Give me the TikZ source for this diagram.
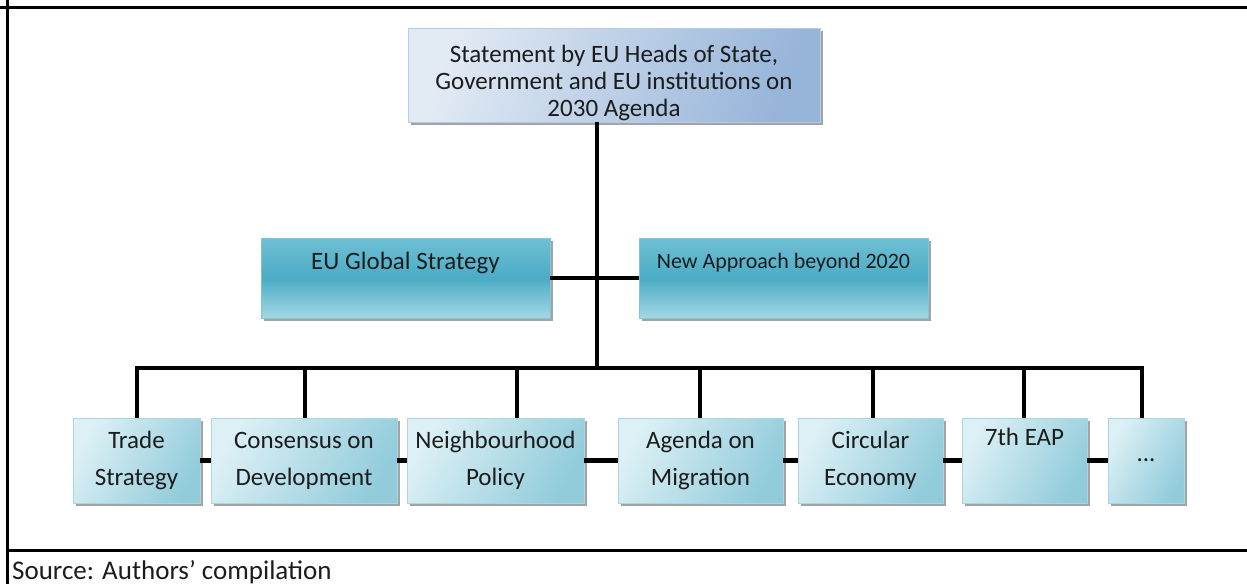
\documentclass[tikz,border=0pt]{standalone}
\usepackage{fontspec}
\setmainfont{Carlito}
\usetikzlibrary{shadows,calc}
\definecolor{txt}{HTML}{1C1C1C}
\definecolor{topL}{HTML}{E2EAF4}
\definecolor{topR}{HTML}{97B5D9}
\definecolor{midT}{HTML}{6FBFD3}
\definecolor{midM}{HTML}{4BACC6}
\definecolor{midB}{HTML}{A3D7E4}
\definecolor{botL}{HTML}{DCF0F5}
\definecolor{botR}{HTML}{92CCDB}
\definecolor{edge}{HTML}{A9D6E2}
\begin{document}
\begin{tikzpicture}[x=1pt,y=-1pt,
  boxbase/.style={inner sep=0pt, align=center, text=txt,
    drop shadow={shadow xshift=2.5pt, shadow yshift=-2.5pt, fill=black!45, opacity=0.8}},
  topbox/.style={boxbase, left color=topL, right color=topR, shading angle=70,
    draw=topR!70, line width=0.6pt, minimum width=412pt, minimum height=94pt,
    font=\fontsize{25}{27}\selectfont},
  midbox/.style={boxbase, top color=midT, bottom color=midB, middle color=midM,
    draw=midM!70, line width=0.6pt, minimum width=289pt, minimum height=80pt,
    font=\fontsize{25}{26}\selectfont},
  botbox/.style={boxbase, left color=botL, right color=botR, shading angle=60,
    draw=edge, line width=0.6pt, minimum height=85pt,
    font=\fontsize{25}{37}\selectfont},
  conn/.style={line width=4.6pt, draw=black, line join=miter},
  frame/.style={line width=3pt, draw=black}]
\useasboundingbox (0,0) rectangle (1247,584);
% frame
\draw[frame] (0,7) -- (1247,7);
\draw[frame] (7,0) -- (7,584);
\draw[frame] (7,550) -- (1247,550);
\node[anchor=base west, font=\fontsize{27}{30}\selectfont, text=txt, inner sep=0pt] (src) at (12,579) {Source: Authors’ compilation};
% nodes
\node[topbox] (top) at (614,75) {\mbox{}\\[7pt]Statement by EU Heads of State,\\Government and EU institutions on\\2030 Agenda};
\node[midbox] (eugs) at (405.5,278) {EU Global Strategy\\\strut};
\node[midbox, font=\fontsize{22}{26}\selectfont] (napp) at (783.5,278) {New Approach beyond 2020\\\strut};
\node[botbox, minimum width=127pt] (trade) at (136.5,460.5) {Trade\\Strategy};
\node[botbox, minimum width=186pt] (cons) at (304,460.5) {Consensus on\\Development};
\node[botbox, minimum width=177pt] (neigh) at (495.5,460.5) {Neighbourhood\\Policy};
\node[botbox, minimum width=165pt] (agenda) at (700.5,460.5) {Agenda on\\Migration};
\node[botbox, minimum width=145pt] (circ) at (870.5,460.5) {Circular\\Economy};
\node[botbox, minimum width=125pt] (eap) at (1024.5,460.5) {7th EAP\\\strut};
\node[botbox, minimum width=76pt] (dots) at (1146,460.5) {...};
% bus coordinates
\coordinate (t) at (597,368);
\coordinate (d1) at (137,368);
\coordinate (d2) at (305,368);
\coordinate (d3) at (517,368);
\coordinate (d4) at (700,368);
\coordinate (d5) at (873,368);
\coordinate (d6) at (1024,368);
\coordinate (d7) at (1142,368);
% connectors
\draw[conn] (t |- top.south) -- (t);
\draw[conn] (eugs.east) -- (napp.west);
\draw[conn] (d1 |- trade.north) -- (d1) -- (d7) -- (d7 |- dots.north);
\draw[conn] (d2) -- (d2 |- cons.north);
\draw[conn] (d3) -- (d3 |- neigh.north);
\draw[conn] (d4) -- (d4 |- agenda.north);
\draw[conn] (d5) -- (d5 |- circ.north);
\draw[conn] (d6) -- (d6 |- eap.north);
\draw[conn] (trade.east) -- (cons.west);
\draw[conn] (cons.east) -- (neigh.west);
\draw[conn] (neigh.east) -- (agenda.west);
\draw[conn] (agenda.east) -- (circ.west);
\draw[conn] (circ.east) -- (eap.west);
\draw[conn] (eap.east) -- (dots.west);
\end{tikzpicture}
\end{document}
